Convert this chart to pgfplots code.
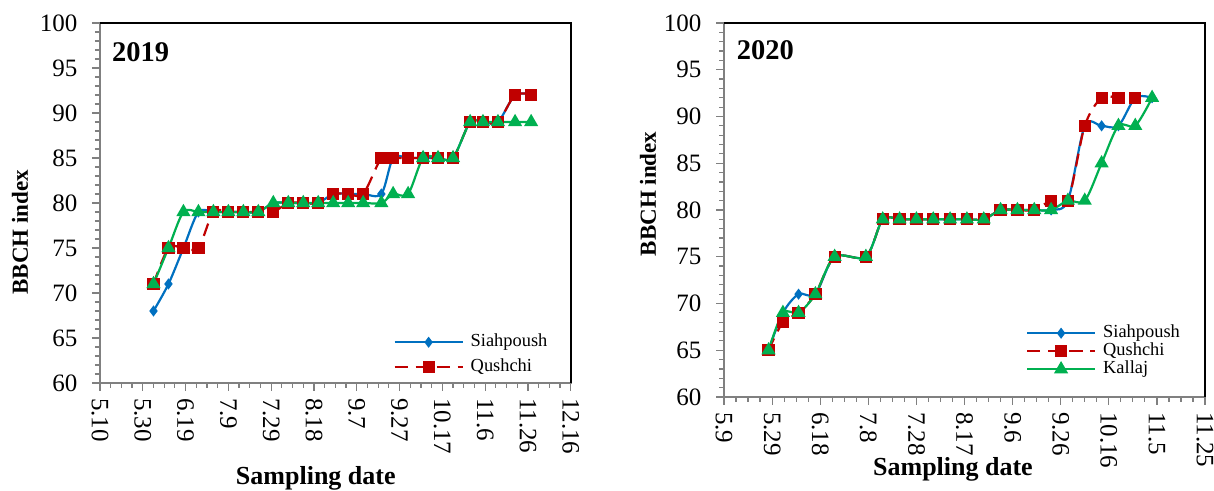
\documentclass[border=0pt]{standalone}
\usepackage{fontspec}
\setmainfont{Liberation Serif}
\usepackage{pgfplots}
\pgfplotsset{compat=1.18}
\definecolor{cS}{HTML}{0070C0}
\definecolor{cQ}{HTML}{C00000}
\definecolor{cK}{HTML}{00B050}
\pgfplotsset{
 bbch/.style={
  scale only axis,
  anchor=south west,
  ymin=60, ymax=100, ytick={60,65,...,100}, minor y tick num=4,
  minor x tick num=3,
  tick align=outside, xtick pos=left, ytick pos=left,
  major tick length=4pt, minor tick length=2.5pt,
  tick style={gray, line width=0.6pt},
  axis line style={gray, line width=0.8pt},
  /pgf/number format/assume math mode=true,
  ticklabel style={font=\fontsize{12.5}{14}\selectfont},
  yticklabel style={xshift=-3.75pt},
  xticklabel style={rotate=-90, anchor=west},
  xlabel={Sampling date}, ylabel={BBCH index},
  xlabel style={font=\bfseries\fontsize{13}{15}\selectfont, anchor=center},
  ylabel style={font=\bfseries\fontsize{11.5}{13}\selectfont, anchor=center},
  legend style={draw=none, fill=none, font=\fontsize{9.2}{10}\selectfont, anchor=north west,
    nodes={inner sep=0pt, text height=6.5pt, text depth=2pt},
    /tikz/every odd column/.style={column sep=3.5pt}},
  legend cell align=left,
  legend image code/.code={\draw[mark repeat=2,mark phase=2,##1] plot coordinates {(0pt,0pt)(17pt,0pt)(34pt,0pt)};},
  after end axis/.code={\draw[black, line width=0.8pt] (rel axis cs:0,1) -- (rel axis cs:1,1) -- (rel axis cs:1,0);},
 },
 sS/.style={cS, line width=1.1pt, smooth, tension=0.5, mark=diamond*, mark size=1.9pt, mark options={solid}},
 sQ/.style={cQ, line width=1.1pt, dash pattern=on 6.5pt off 4pt, smooth, tension=0.5, mark=square*, mark size=2.5pt, mark options={solid}},
 sK/.style={cK, line width=1.1pt, smooth, tension=0.5, mark=triangle*, mark size=3pt, mark options={solid}},
}
\begin{document}
\begin{tikzpicture}
\useasboundingbox (0,0) rectangle (607pt,245.5pt);
% ---------------- 2019 ----------------
\begin{axis}[bbch,
  at={(50pt,54pt)}, width=235.35pt, height=180pt,
  xmin=0, xmax=220, xtick={0,20,...,220},
  xticklabels={5.10,5.30,6.19,7.9,7.29,8.18,9.7,9.27,10.17,11.6,11.26,12.16},
  xlabel style={at={(axis description cs:0.4585,-0.264)}},
  ylabel style={at={(axis description cs:-0.170,0.419)}},
  legend style={at={(axis description cs:0.61,0.149)}, row sep=4pt},
]
\addplot[sS] coordinates {(25,68)(32,71)(39,75)(46,79)(53,79)(60,79)(67,79)(74,79)(81,80)(88,80)(95,80)(102,80)(109,81)(116,81)(123,81)(131.5,81)(137,85)(144,85)(151,85)(158,85)(165,85)(173,89)(179,89)(186,89)(194,92)(201.5,92)};
\addlegendentry{Siahpoush}
\addplot[sQ] coordinates {(25,71)(32,75)(39,75)(46,75)(53,79)(60,79)(67,79)(74,79)(81,79)(88,80)(95,80)(102,80)(109,81)(116,81)(123,81)(131.5,85)(137,85)(144,85)(151,85)(158,85)(165,85)(173,89)(179,89)(186,89)(194,92)(201.5,92)};
\addlegendentry{Qushchi}
\addplot[sK, forget plot] coordinates {(25,71)(32,75)(39,79)(46,79)(53,79)(60,79)(67,79)(74,79)(81,80)(88,80)(95,80)(102,80)(109,80)(116,80)(123,80)(131.5,80)(137,81)(144,81)(151,85)(158,85)(165,85)(173,89)(179,89)(186,89)(194,89)(201.5,89)};
\node[anchor=north west, inner sep=0pt, font=\bfseries\fontsize{14.25}{16}\selectfont] at (rel axis cs:0.025,0.948) {2019};
\end{axis}
% ---------------- 2020 ----------------
\begin{axis}[bbch,
  at={(362pt,47pt)}, width=240.5pt, height=187pt,
  xmin=0, xmax=200, xtick={0,20,...,200},
  xticklabels={5.9,5.29,6.18,7.8,7.28,8.17,9.6,9.26,10.16,11.5,11.25},
  xlabel style={at={(axis description cs:0.476,-0.1925)}},
  ylabel style={at={(axis description cs:-0.158,0.543)}},
  legend style={at={(axis description cs:0.6145,0.205)}, row sep=0.5pt},
]
\addplot[sS] coordinates {(18.5,65)(24.5,69)(31,71)(38,71)(46,75)(59,75)(66,79)(73,79)(80,79)(87,79)(94,79)(101,79)(108,79)(115,80)(122,80)(129,80)(136,80)(143,81)(150,89)(157,89)(164,89)(171,92)(178,92)};
\addlegendentry{Siahpoush}
\addplot[sQ] coordinates {(18.5,65)(24.5,68)(31,69)(38,71)(46,75)(59,75)(66,79)(73,79)(80,79)(87,79)(94,79)(101,79)(108,79)(115,80)(122,80)(129,80)(136,81)(143,81)(150,89)(157,92)(164,92)(171,92)};
\addlegendentry{Qushchi}
\addplot[sK] coordinates {(18.5,65)(24.5,69)(31,69)(38,71)(46,75)(59,75)(66,79)(73,79)(80,79)(87,79)(94,79)(101,79)(108,79)(115,80)(122,80)(129,80)(136,80)(143,81)(150,81)(157,85)(164,89)(171,89)(178,92)};
\addlegendentry{Kallaj}
\node[anchor=north west, inner sep=0pt, font=\bfseries\fontsize{14.25}{16}\selectfont] at (rel axis cs:0.026,0.9545) {2020};
\end{axis}
\end{tikzpicture}
\end{document}
